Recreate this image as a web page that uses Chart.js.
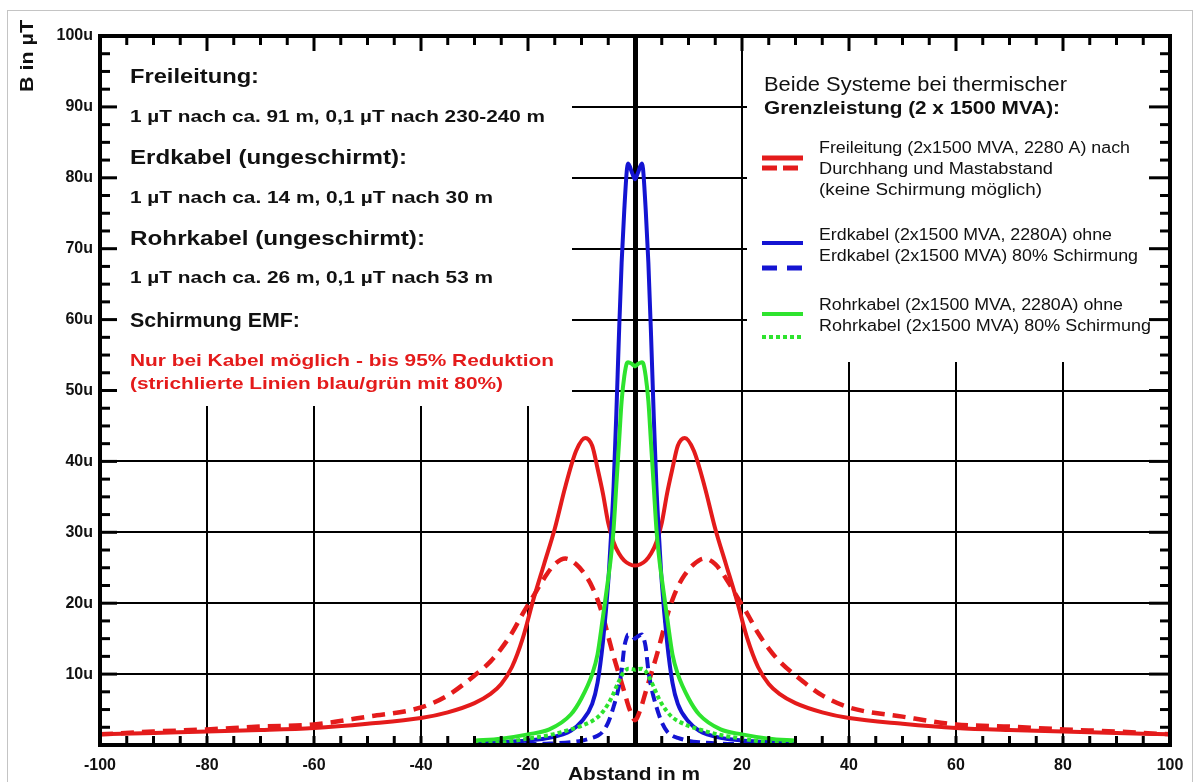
<!DOCTYPE html>
<html>
<head>
<meta charset="utf-8">
<title>Magnetfeld Freileitung / Kabel</title>
<script src="https://cdn.jsdelivr.net/npm/chart.js@4.4.0/dist/chart.umd.min.js"></script>
<style>
  html, body { margin: 0; padding: 0; background: #fff; }
  #wrap { position: relative; width: 1196px; height: 782px; }
</style>
</head>
<body>
<div id="wrap"><canvas id="chart" width="1196" height="782"></canvas></div>
<script>
// Abstand in m (Freileitung)
const abstandFrei = [-100, -90, -80, -70, -60, -50, -40, -35, -30, -27, -25, -23, -21, -19, -17, -15, -13, -11,
  -9.3, -8, -7, -6, -5, -4, -3, -2, -1, 0, 1, 2, 3, 4, 5, 6, 7, 8, 9.3,
  11, 13, 15, 17, 19, 21, 23, 25, 27, 30, 35, 40, 50, 60, 70, 80, 90, 100];
// B in µT
const freileitung = [1.5, 1.7, 1.9, 2.1, 2.4, 3.0, 3.8, 4.6, 5.9, 7.2, 8.6, 11.0, 15.0, 20.5, 25.5, 30.5, 36.5, 41.5,
  43.3, 42.2, 39.0, 35.5, 31.3, 28.6, 27.0, 26.0, 25.5, 25.3, 25.5, 26.0, 27.0, 28.6, 31.3, 35.5, 39.0, 42.2, 43.3,
  41.5, 36.5, 30.5, 25.5, 20.5, 15.0, 11.0, 8.6, 7.2, 5.9, 4.6, 3.8, 3.0, 2.4, 2.1, 1.9, 1.7, 1.5];
const freileitungDurchhang = [1.5, 1.9, 2.2, 2.6, 2.9, 4.0, 5.3, 7.0, 9.8, 11.8, 13.6, 15.8, 18.5, 21.0, 23.5, 25.5, 26.3, 25.5,
  24.0, 22.3, 20.5, 18.2, 15.3, 12.5, 10.0, 7.5, 5.0, 3.5, 5.0, 7.5, 10.0, 12.5, 15.3, 18.2, 20.5, 22.3, 24.0,
  25.5, 26.3, 25.5, 23.5, 21.0, 18.5, 15.8, 13.6, 11.8, 9.8, 7.0, 5.3, 4.0, 2.9, 2.6, 2.2, 1.9, 1.5];

// Abstand in m (Kabel)
const abstandKabel = [-30, -25, -20, -16, -12, -10, -8, -7, -6, -5, -4.5, -4, -3.5, -3, -2.5, -2, -1.5, -1.3, -0.5,
  0, 0.5, 1.3, 1.5, 2, 2.5, 3, 3.5, 4, 4.5, 5, 6, 7, 8, 10, 12, 16, 20, 25, 30];
const erdkabel = [0.3, 0.42, 0.65, 1.0, 2.0, 3.3, 5.8, 8.8, 14.5, 23.0, 29.3, 36.5, 46.5, 57.8, 68.0, 75.5, 81.3, 82.0, 80.6,
  79.8, 80.6, 82.0, 81.3, 75.5, 68.0, 57.8, 46.5, 36.5, 29.3, 23.0, 14.5, 8.8, 5.8, 3.3, 2.0, 1.0, 0.65, 0.42, 0.3];
const erdkabelSchirm = [0.06, 0.09, 0.13, 0.2, 0.4, 0.6, 1.0, 1.3, 1.9, 3.2, 4.2, 5.4, 6.7, 8.3, 10.5, 13.8, 15.3, 15.6, 15.3,
  15.0, 15.3, 15.6, 15.3, 13.8, 10.5, 8.3, 6.7, 5.4, 4.2, 3.2, 1.9, 1.3, 1.0, 0.6, 0.4, 0.2, 0.13, 0.09, 0.06];
const rohrkabel = [0.6, 0.9, 1.5, 2.2, 4.3, 6.6, 10.0, 12.8, 18.0, 23.5, 26.5, 30.5, 36.5, 42.5, 48.5, 52.0, 53.9, 54.0, 53.7,
  53.4, 53.7, 54.0, 53.9, 52.0, 48.5, 42.5, 36.5, 30.5, 26.5, 23.5, 18.0, 12.8, 10.0, 6.6, 4.3, 2.2, 1.5, 0.9, 0.6];
const rohrkabelSchirm = [0.2, 0.35, 0.9, 1.4, 2.2, 2.7, 3.4, 3.9, 4.7, 5.8, 6.5, 7.3, 8.2, 9.0, 9.8, 10.4, 10.7, 10.75, 10.7,
  10.6, 10.7, 10.75, 10.7, 10.4, 9.8, 9.0, 8.2, 7.3, 6.5, 5.8, 4.7, 3.9, 3.4, 2.7, 2.2, 1.4, 0.9, 0.35, 0.2];

const xTickLabels = ['-100', '-80', '-60', '-40', '-20', '', '20', '40', '60', '80', '100'];
const yTickLabels = ['', '10u', '20u', '30u', '40u', '50u', '60u', '70u', '80u', '90u', '100u'];

const ROT = '#e41b1b';
const BLAU = '#1414d2';
const GRUEN = '#2ee32e';
const FONT = '"Liberation Sans", Arial, sans-serif';

const pts = (xs, ys) => xs.map((x, i) => ({ x: x, y: ys[i] }));

// draw text squeezed/stretched to a measured width
function txt(ctx, s, x, y, endX, font, color) {
    ctx.font = font;
    ctx.fillStyle = color || '#111';
    ctx.textAlign = 'left';
    ctx.textBaseline = 'middle';
    const w = ctx.measureText(s).width;
    ctx.save();
    ctx.translate(x, y);
    ctx.scale((endX - x) / w, 1);
    ctx.fillText(s, 0, 0);
    ctx.restore();
}

function seg(ctx, x1, y1, x2, y2) {
    ctx.beginPath();
    ctx.moveTo(x1, y1);
    ctx.lineTo(x2, y2);
    ctx.stroke();
}

const deko = {
    id: 'deko',
    beforeDatasetsDraw(chart) {
        const ctx = chart.ctx;
        ctx.save();
        ctx.fillStyle = '#fff';
        // text boxes hide the grid
        ctx.fillRect(102, 38, 470, 368);
        ctx.fillRect(747, 38, 405, 324);
        ctx.restore();
    },
    afterDatasetsDraw(chart) {
        const ctx = chart.ctx;
        const { left, right, top, bottom } = chart.chartArea;
        const sx = chart.scales.x, sy = chart.scales.y;
        ctx.save();
        ctx.strokeStyle = '#000';
        ctx.lineWidth = 3;
        for (let v = -95; v < 100; v += 5) {
            const px = sx.getPixelForValue(v);
            seg(ctx, px, top, px, top + (v % 20 === 0 ? 15 : 9));
            seg(ctx, px, bottom, px, bottom - 9);
        }
        for (let v = 2.5; v < 100; v += 2.5) {
            const py = sy.getPixelForValue(v);
            const major = v % 10 === 0;
            seg(ctx, left, py, left + (major ? 17 : 10), py);
            seg(ctx, right, py, right - (major ? 21 : 10), py);
        }
        ctx.lineWidth = 4;
        ctx.strokeRect(left, top, right - left, bottom - top);

        // left info box
        const B = 'bold 20px ' + FONT, b = 'bold 17px ' + FONT;
        txt(ctx, 'Freileitung:', 130, 77, 259, B);
        txt(ctx, '1 µT nach ca. 91 m, 0,1 µT nach 230-240 m', 130, 117, 545, b);
        txt(ctx, 'Erdkabel (ungeschirmt):', 130, 158, 407, B);
        txt(ctx, '1 µT nach ca. 14 m, 0,1 µT nach 30 m', 130, 198, 493, b);
        txt(ctx, 'Rohrkabel (ungeschirmt):', 130, 239, 425, B);
        txt(ctx, '1 µT nach ca. 26 m, 0,1 µT nach 53 m', 130, 278, 493, b);
        txt(ctx, 'Schirmung EMF:', 130, 321, 300, B);
        txt(ctx, 'Nur bei Kabel möglich - bis 95% Reduktion', 130, 361, 554, b, ROT);
        txt(ctx, '(strichlierte Linien blau/grün mit 80%)', 130, 384, 503, b, ROT);

        // right box / legend
        txt(ctx, 'Beide Systeme bei thermischer', 764, 85, 1067, '20px ' + FONT);
        txt(ctx, 'Grenzleistung (2 x 1500 MVA):', 764, 109, 1060, 'bold 19px ' + FONT);
        const L = '16px ' + FONT;
        txt(ctx, 'Freileitung (2x1500 MVA, 2280 A) nach', 819, 149, 1130, L);
        txt(ctx, 'Durchhang und Mastabstand', 819, 170, 1053, L);
        txt(ctx, '(keine Schirmung möglich)', 819, 191, 1042, L);
        txt(ctx, 'Erdkabel (2x1500 MVA, 2280A) ohne', 819, 236, 1112, L);
        txt(ctx, 'Erdkabel (2x1500 MVA) 80% Schirmung', 819, 257, 1138, L);
        txt(ctx, 'Rohrkabel (2x1500 MVA, 2280A) ohne', 819, 306, 1123, L);
        txt(ctx, 'Rohrkabel (2x1500 MVA) 80% Schirmung', 819, 327, 1151, L);

        const sample = (y, color, dash, w) => {
            ctx.strokeStyle = color;
            ctx.lineWidth = w;
            ctx.setLineDash(dash);
            seg(ctx, 762, y, 803, y);
            ctx.setLineDash([]);
        };
        sample(158, ROT, [], 5);
        sample(168, ROT, [15, 6], 5);
        sample(243, BLAU, [], 4);
        sample(268, BLAU, [15, 10], 5);
        sample(314, GRUEN, [], 4);
        sample(337, GRUEN, [4, 3], 4);
        ctx.restore();
    },
    afterDraw(chart) {
        const ctx = chart.ctx;
        ctx.save();
        // axis titles
        ctx.translate(28, 56);
        ctx.rotate(-Math.PI / 2);
        ctx.font = 'bold 19px ' + FONT;
        const w = ctx.measureText('B in µT').width;
        ctx.scale(72 / w, 1);
        ctx.fillStyle = '#111';
        ctx.textAlign = 'center';
        ctx.textBaseline = 'middle';
        ctx.fillText('B in µT', 0, 0);
        ctx.restore();
        txt(ctx, 'Abstand in m', 568, 775, 700, 'bold 18px ' + FONT);
        ctx.save();
        ctx.strokeStyle = '#c4c4c4';
        ctx.lineWidth = 1;
        ctx.strokeRect(7.5, 10.5, 1185, 800);
        ctx.restore();
    }
};

const tickFont = { family: FONT, size: 16, weight: 'bold' };

new Chart(document.getElementById('chart'), {
    type: 'line',
    data: {
        datasets: [
            { label: 'Rohrkabel ohne', data: pts(abstandKabel, rohrkabel), borderColor: GRUEN, borderWidth: 4 },
            { label: 'Rohrkabel 80% Schirmung', data: pts(abstandKabel, rohrkabelSchirm), borderColor: GRUEN, borderWidth: 4, borderDash: [4, 3] },
            { label: 'Erdkabel ohne', data: pts(abstandKabel, erdkabel), borderColor: BLAU, borderWidth: 4 },
            { label: 'Erdkabel 80% Schirmung', data: pts(abstandKabel, erdkabelSchirm), borderColor: BLAU, borderWidth: 4, borderDash: [11, 6] },
            { label: 'Freileitung', data: pts(abstandFrei, freileitung), borderColor: ROT, borderWidth: 4 },
            { label: 'Freileitung Durchhang', data: pts(abstandFrei, freileitungDurchhang), borderColor: ROT, borderWidth: 4.5, borderDash: [13, 8] }
        ]
    },
    options: {
        responsive: false,
        animation: false,
        layout: { padding: { top: 36, right: 26, left: 0, bottom: 0 } },
        elements: {
            point: { radius: 0 },
            line: { cubicInterpolationMode: 'monotone', fill: false }
        },
        plugins: { legend: { display: false }, tooltip: { enabled: false } },
        scales: {
            x: {
                type: 'linear', min: -100, max: 100,
                afterFit: (s) => { s.height = 37; },
                ticks: { stepSize: 20, padding: 11, color: '#111', font: tickFont, maxRotation: 0, autoSkip: false,
                    callback: (v, i) => xTickLabels[i] },
                grid: { color: '#000', lineWidth: (c) => (c.tick && c.tick.value === 0 ? 5 : 2), drawTicks: false },
                border: { display: false }
            },
            y: {
                type: 'linear', min: 0, max: 100,
                afterFit: (s) => { s.width = 100; },
                ticks: { stepSize: 10, padding: 7, color: '#111', font: tickFont, callback: (v, i) => yTickLabels[i] },
                grid: { color: '#000', lineWidth: 2, drawTicks: false },
                border: { display: false }
            }
        }
    },
    plugins: [deko]
});
</script>
</body>
</html>
